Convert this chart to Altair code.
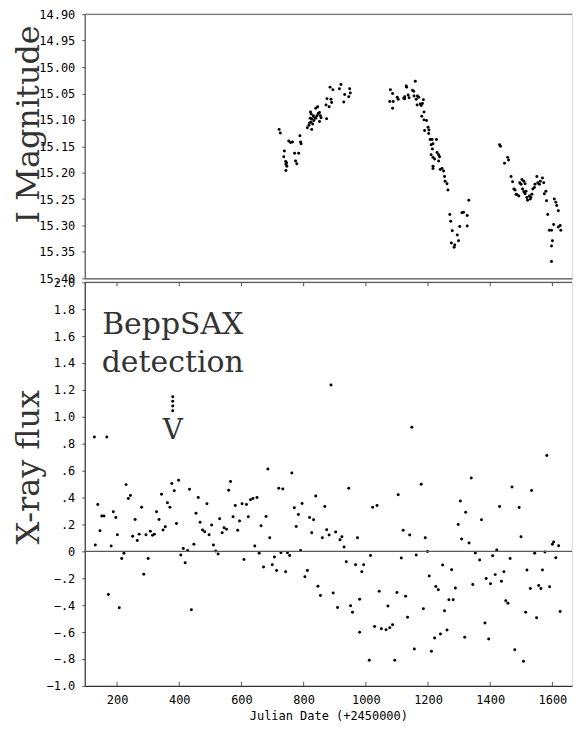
import altair as alt
import pandas as pd

# ---------------- I-band light curve (top panel) ----------------
jd_i = [721, 725, 752, 758, 764, 788, 790, 792, 738, 771, 784, 736, 742, 745, 743, 746,
        774, 778, 743,
        812, 826, 819, 824, 826, 821, 831, 835, 839, 843, 822, 824, 839, 845, 851, 854,
        856, 851, 874, 872, 875, 882, 888, 890, 885, 894, 915, 920, 932, 948, 950, 945, 929,
        833, 829, 817, 847,
        1079, 1086, 1077, 1088, 1086, 1101, 1104, 1122, 1125, 1131,
        1125, 1130, 1136, 1139, 1150, 1154, 1155, 1159, 1162, 1165, 1166, 1170, 1175, 1178,
        1182, 1185, 1187, 1180, 1187, 1195, 1189, 1200, 1203, 1202, 1207, 1213, 1227, 1210,
        1216, 1214, 1210, 1216, 1221, 1229, 1234, 1237, 1234, 1216, 1216, 1239, 1245, 1250,
        1253, 1255, 1261, 1264, 1331, 1270, 1273, 1309, 1314, 1326, 1302, 1326, 1278, 1294,
        1298, 1275, 1286, 1284,
        1430, 1433, 1446, 1456, 1459, 1467, 1472, 1476, 1480, 1483, 1486, 1492, 1495, 1499,
        1502, 1508, 1512, 1504, 1508, 1512, 1515, 1518, 1520, 1526, 1529, 1531, 1534, 1537,
        1542, 1544, 1550, 1553, 1558, 1561, 1568, 1572, 1579, 1574, 1581, 1606, 1611, 1614,
        1619, 1585, 1604, 1619, 1625, 1627, 1590, 1597, 1600, 1597, 1597]
mag_i = [15.118, 15.125, 15.140, 15.143, 15.142, 15.130, 15.142, 15.145, 15.159, 15.163,
         15.163, 15.170, 15.179, 15.181, 15.184, 15.188, 15.178, 15.183, 15.196,
         15.115, 15.118, 15.106, 15.104, 15.098, 15.097, 15.092, 15.095, 15.097, 15.092,
         15.085, 15.089, 15.078, 15.075, 15.086, 15.092, 15.096, 15.103, 15.098, 15.072,
         15.060, 15.075, 15.061, 15.067, 15.038, 15.043, 15.041, 15.033, 15.052, 15.041,
         15.049, 15.056, 15.066,
         15.101, 15.108, 15.110, 15.088,
         15.043, 15.050, 15.065, 15.065, 15.078, 15.057, 15.061, 15.059, 15.056, 15.038,
         15.060, 15.036, 15.053, 15.058, 15.044, 15.046, 15.055, 15.027, 15.061, 15.072,
         15.055, 15.057, 15.070, 15.073, 15.069, 15.062, 15.085, 15.093, 15.100, 15.101,
         15.120, 15.114, 15.119, 15.126, 15.137, 15.137, 15.137, 15.147, 15.145, 15.155,
         15.166, 15.171, 15.174, 15.162, 15.166, 15.170, 15.178, 15.188, 15.192, 15.194,
         15.192, 15.197, 15.207, 15.216, 15.221, 15.233, 15.252, 15.279, 15.292, 15.276,
         15.275, 15.281, 15.302, 15.301, 15.310, 15.318, 15.329, 15.333, 15.337, 15.341,
         15.147, 15.150, 15.182, 15.171, 15.176, 15.207, 15.217, 15.231, 15.233, 15.241,
         15.242, 15.244, 15.219, 15.222, 15.213, 15.216, 15.221, 15.231, 15.236, 15.240,
         15.235, 15.247, 15.252, 15.244, 15.250, 15.247, 15.241, 15.231, 15.228, 15.222,
         15.207, 15.219, 15.222, 15.216, 15.210, 15.219, 15.235, 15.240, 15.253, 15.250,
         15.256, 15.262, 15.272, 15.279, 15.298, 15.303, 15.300, 15.309, 15.309, 15.309,
         15.329, 15.339, 15.368]

# ---------------- X-ray flux (bottom panel) ----------------
jd_x = [127, 167, 138, 151, 158, 145, 130, 181, 188, 196, 201, 215, 222, 229, 236, 243,
        250, 258, 265, 271, 279, 286, 293, 300, 307, 314, 320, 327, 335, 343, 348, 355,
        362, 370, 376, 384, 391, 398, 405, 413, 419, 427, 433, 439, 447, 454, 461, 467,
        475, 482, 489, 496, 504, 510, 517, 525, 530, 538, 544, 552, 559, 565, 573, 580,
        588, 594, 602, 616, 622, 629, 637, 608, 172, 207,
        379, 379, 379, 379,
        888, 1148, 685, 762, 720, 733, 945, 1104, 839, 650, 770, 795, 868, 1022, 1036,
        679, 783, 819, 832, 663, 776, 874, 1120, 826, 882, 903, 1141, 691, 860, 923, 917,
        973, 643, 930, 790, 657, 727, 748, 755, 706, 1015, 1114, 1162, 671, 699, 713, 742,
        812, 804, 937, 967, 993, 987, 846, 854, 895, 909, 1043, 1100, 1128, 980, 951, 957,
        1071, 1134, 980, 1028, 1050, 1065, 1077, 1086, 1156, 1011, 1093,
        1582, 1339, 1178, 1470, 1533, 1304, 1430, 1493, 1321, 1372, 1297, 1191, 1308, 1332,
        1499, 1600, 1604, 1620, 1198, 1352, 1421, 1408, 1366, 1464, 1543, 1576, 1611, 1247,
        1276, 1518, 1568, 1204, 1444, 1416, 1387, 1401, 1436, 1344, 1225, 1233, 1288, 1529,
        1556, 1563, 1591, 1267, 1281, 1450, 1457, 1185, 1253, 1514, 1549, 1625, 1383, 1261,
        1240, 1221, 1318, 1395, 1211, 1479, 1507]
flux_x = [0.850, 0.850, 0.348, 0.262, 0.262, 0.153, 0.047, 0.039, 0.294, 0.252, 0.124,
          -0.054, -0.015, 0.496, 0.393, 0.415, 0.113, 0.237, 0.081, 0.128, 0.328, -0.170,
          0.124, -0.054, 0.150, 0.119, 0.128, 0.294, 0.237, 0.424, 0.158, 0.183, 0.361,
          0.328, 0.504, 0.450, 0.207, 0.528, -0.027, 0.022, -0.084, 0.007, 0.461, -0.435,
          0.052, 0.284, 0.400, 0.217, 0.158, 0.146, 0.353, 0.124, 0.195, 0.047, 0.002,
          -0.020, 0.242, 0.138, 0.176, 0.165, 0.454, 0.519, 0.257, 0.341, 0.156, 0.225,
          0.353, 0.348, 0.257, 0.383, 0.393, -0.061, -0.321, -0.420,
          1.150, 1.115, 1.080, 1.045,
          1.237, 0.923, 0.612, 0.583, 0.469, 0.464, 0.469, 0.420, 0.412, 0.400, 0.324,
          0.356, 0.333, 0.328, 0.341, 0.259, 0.274, 0.252, 0.235, 0.190, 0.185, 0.160,
          0.156, 0.138, 0.121, 0.143, 0.121, 0.101, 0.101, 0.109, 0.087, 0.101, 0.039,
          0.032, 0.007, -0.015, -0.010, -0.010, -0.030, -0.042, -0.030, -0.050, -0.027,
          -0.116, -0.099, -0.143, -0.151, -0.143, -0.188, -0.077, -0.099, -0.099, -0.151,
          -0.259, -0.328, -0.309, -0.417, -0.296, -0.306, -0.333, -0.356, -0.405, -0.452,
          -0.407, -0.489, -0.602, -0.558, -0.575, -0.583, -0.568, -0.546, -0.726, -0.810,
          -0.810,
          0.713, 0.546, 0.499, 0.479, 0.452, 0.375, 0.333, 0.326, 0.291, 0.235, 0.200,
          0.101, 0.091, 0.062, 0.109, 0.052, 0.069, 0.042, -0.002, -0.012, 0.010, -0.032,
          -0.064, -0.054, -0.015, -0.005, -0.047, -0.101, -0.136, -0.138, -0.138, -0.183,
          -0.151, -0.173, -0.202, -0.240, -0.222, -0.247, -0.262, -0.286, -0.272, -0.277,
          -0.254, -0.277, -0.264, -0.360, -0.360, -0.368, -0.385, -0.427, -0.442, -0.452,
          -0.494, -0.447, -0.533, -0.585, -0.615, -0.644, -0.639, -0.652, -0.743, -0.731,
          -0.817]

x_ticks = [200, 400, 600, 800, 1000, 1200, 1400, 1600]
mag_ticks = [14.90, 14.95, 15.00, 15.05, 15.10, 15.15, 15.20, 15.25, 15.30, 15.35, 15.40]
flux_ticks = [-1.0, -0.8, -0.6, -0.4, -0.2, 0.0, 0.2, 0.4, 0.6, 0.8, 1.0, 1.2, 1.4, 1.6,
              1.8, 2.0]

# reference lines: upper frame of each panel and the zero-flux level
mag_lines = [14.90]
flux_lines = [2.0, 0.0]

note_text = ["BeppSAX", "detection"]
note_jd = [379, 379]
note_flux = [1.615, 1.333]
arrow_text = ["V"]
arrow_jd = [379]
arrow_flux = [0.837]

df_i = pd.DataFrame({"jd": jd_i, "mag": mag_i})
df_x = pd.DataFrame({"jd": jd_x, "flux": flux_x})
df_ticks = pd.DataFrame({"t": x_ticks})
df_mag_lines = pd.DataFrame({"v": mag_lines})
df_flux_lines = pd.DataFrame({"v": flux_lines})
df_note = pd.DataFrame({"txt": note_text, "jd": note_jd, "flux": note_flux})
df_arrow = pd.DataFrame({"txt": arrow_text, "jd": arrow_jd, "flux": arrow_flux})

W = 489
H1 = 265
H2 = 405
FRAME = "#555555"
LABEL_FONT = "DejaVu Sans Mono"
TITLE_FONT = "DejaVu Serif"
TITLE_COLOR = "#333333"

xscale = alt.Scale(domain=[96, 1663], nice=False, zero=False)
mag_scale = alt.Scale(domain=[14.9, 15.4], reverse=True, nice=False, zero=False)
flux_scale = alt.Scale(domain=[-1.0, 2.0], nice=False, zero=False)

label_expr = ("abs(datum.value) < 1e-9 ? '0' : (abs(datum.value) < 1 ? "
              "replace(format(datum.value, '.1f'), '0.', '.') : format(datum.value, '.1f'))")

# shared axis definitions (reused by every layer so that merged axes agree)
x_top_axis = alt.Axis(values=x_ticks, labels=False, ticks=False, title=None, grid=False,
                      domainColor=FRAME, domainWidth=1.2)
y_top_axis = alt.Axis(values=mag_ticks, format=".2f", title="I Magnitude",
                      grid=False, tickSize=3, tickColor=FRAME, domainColor=FRAME,
                      domainWidth=1.2, labelPadding=7, labelFont=LABEL_FONT,
                      labelFontSize=12, labelColor="black", labelOverlap=False,
                      titleFont=TITLE_FONT, titleFontSize=32,
                      titleFontWeight="normal", titleColor=TITLE_COLOR,
                      titleX=-46, titleY=110, titleAngle=270,
                      titleAlign="center", titleBaseline="alphabetic")
x_bot_axis = alt.Axis(values=x_ticks, format="d", title="Julian Date (+2450000)",
                      grid=False, ticks=False, domainColor="#333333",
                      domainWidth=1.2, labelPadding=9, labelFont=LABEL_FONT,
                      labelFontSize=12, labelColor="black", labelOverlap=False,
                      titleFont=LABEL_FONT, titleFontSize=12,
                      titleFontWeight="normal", titleColor="black",
                      titlePadding=5)
y_bot_axis = alt.Axis(values=flux_ticks, labelExpr=label_expr, title="X-ray flux",
                      grid=False, tickSize=3, tickColor=FRAME,
                      domainColor="#333333", domainWidth=1.2, labelPadding=7,
                      labelFont=LABEL_FONT, labelFontSize=12, labelColor="black",
                      labelOverlap=False,
                      titleFont=TITLE_FONT, titleFontSize=32,
                      titleFontWeight="normal", titleColor=TITLE_COLOR,
                      titleX=-46, titleY=185, titleAngle=270,
                      titleAlign="center", titleBaseline="alphabetic")

# ---- top panel ----
top_pts = alt.Chart(df_i).mark_circle(size=9, color="black", opacity=1).encode(
    x=alt.X("jd:Q", scale=xscale, axis=x_top_axis),
    y=alt.Y("mag:Q", scale=mag_scale, axis=y_top_axis),
)
top_border = alt.Chart(df_mag_lines).mark_rule(color=FRAME, strokeWidth=1.2).encode(
    y=alt.Y("v:Q", scale=mag_scale, axis=y_top_axis))
top = alt.layer(top_pts, top_border).properties(width=W, height=H1)

# ---- bottom panel ----
bot_pts = alt.Chart(df_x).mark_circle(size=9, color="black", opacity=1).encode(
    x=alt.X("jd:Q", scale=xscale, axis=x_bot_axis),
    y=alt.Y("flux:Q", scale=flux_scale, axis=y_bot_axis),
)
hlines = alt.Chart(df_flux_lines).mark_rule(color="#5a5a5a", strokeWidth=1.25).encode(
    y=alt.Y("v:Q", scale=flux_scale, axis=y_bot_axis))
ticks_b = alt.Chart(df_ticks).mark_rule(color=FRAME).transform_calculate(
    lo="-1.0", hi="-0.97").encode(
    x=alt.X("t:Q", scale=xscale, axis=x_bot_axis),
    y=alt.Y("lo:Q", scale=flux_scale, axis=y_bot_axis), y2="hi:Q")
ticks_t = alt.Chart(df_ticks).mark_rule(color=FRAME).transform_calculate(
    lo="1.97", hi="2.0").encode(
    x=alt.X("t:Q", scale=xscale, axis=x_bot_axis),
    y=alt.Y("lo:Q", scale=flux_scale, axis=y_bot_axis), y2="hi:Q")
notes = alt.Chart(df_note).mark_text(font=TITLE_FONT, fontSize=30, align="center",
                                     baseline="alphabetic", color=TITLE_COLOR).encode(
    x=alt.X("jd:Q", scale=xscale, axis=x_bot_axis),
    y=alt.Y("flux:Q", scale=flux_scale, axis=y_bot_axis), text="txt:N")
arrow = alt.Chart(df_arrow).mark_text(font=TITLE_FONT, fontSize=28, align="center",
                                      baseline="alphabetic", color=TITLE_COLOR).encode(
    x=alt.X("jd:Q", scale=xscale, axis=x_bot_axis),
    y=alt.Y("flux:Q", scale=flux_scale, axis=y_bot_axis), text="txt:N")

bottom = alt.layer(bot_pts, hlines, ticks_b, ticks_t, notes, arrow
                   ).properties(width=W, height=H2)

chart = alt.vconcat(top, bottom, spacing=4, bounds="flush").properties(
    padding={"left": 4, "top": -2, "right": 0, "bottom": 2}
).configure_view(stroke=None).configure(background="white")

chart.save("out.html", embed_options={"renderer": "svg", "actions": False})
